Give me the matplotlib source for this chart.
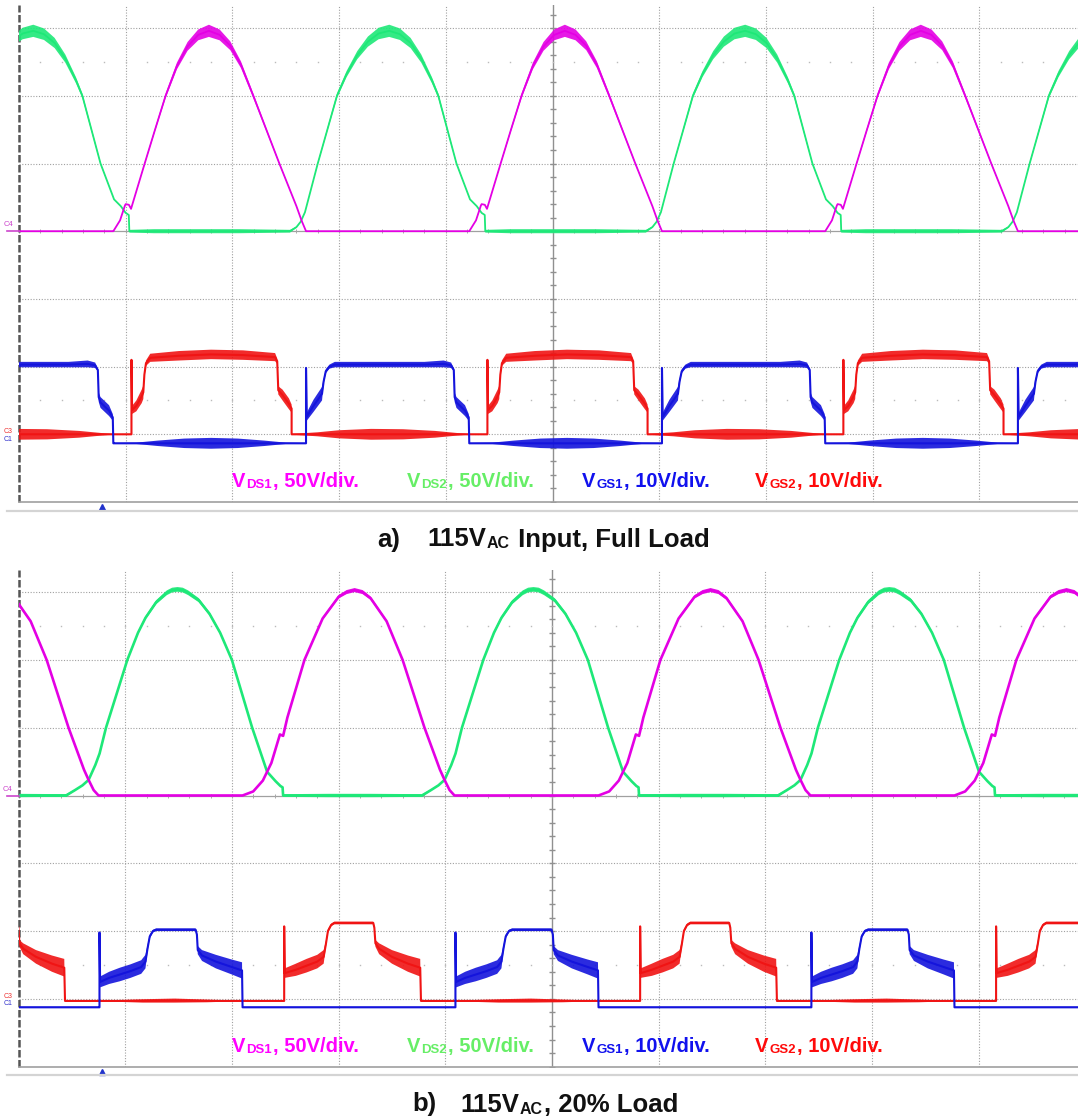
import numpy as np
import matplotlib.pyplot as plt
from matplotlib.text import Annotation
from matplotlib.lines import Line2D

plt.rcParams['font.family'] = ['Liberation Sans', 'DejaVu Sans']

W, H = 1078, 1120
PERIOD = 3.336   # switching period in horizontal divisions (same in both shots)

# ---------------------------------------------------------------------------
#  a) 115VAC input, full load : one switching period of every trace
#     *_t time [div], *_v level [div], *_w half width of ripple / noise band
#     VDS traces are relative to the C4 ground marker (div 4)
# ---------------------------------------------------------------------------
a_vds1_t = [0.884, 0.947, 0.993, 1.00, 1.03, 1.05, 1.178, 1.275, 1.374, 1.48, 1.58, 1.68, 1.78,
            1.88, 1.98, 2.08, 2.196, 2.44, 2.60, 2.65, 2.69, 4.22]
a_vds1_v = [0, 0.16, 0.38, 0.40, 0.39, 0.33, 1.0, 1.5, 2.0, 2.44, 2.73, 2.90, 2.96,
            2.90, 2.74, 2.46, 2.0, 1.0, 0.37, 0.15, 0, 0]
a_vds1_w = [0, 0, 0, 0, 0, 0, 0.015, 0.025, 0.035, 0.05, 0.065, 0.08, 0.09,
            0.08, 0.065, 0.05, 0.035, 0.015, 0, 0, 0, 0]

a_vds2_t = [2.54, 2.60, 2.64, 2.68, 2.80, 2.98, 3.07, 3.17, 3.27, 3.37, 3.47, 3.57, 3.67, 3.77,
            3.87, 3.93, 4.10, 4.227, 4.29, 4.336, 4.365, 4.37, 4.6, 5.0, 5.4, 5.876]
a_vds2_v = [0, 0.06, 0.14, 0.28, 1.0, 2.0, 2.32, 2.60, 2.80, 2.92, 2.96, 2.91, 2.78, 2.55,
            2.23, 2.0, 1.0, 0.47, 0.37, 0.27, 0.24, 0, 0, 0, 0, 0]
a_vds2_w = [0.02, 0.01, 0, 0, 0.015, 0.035, 0.045, 0.06, 0.075, 0.085, 0.09, 0.085, 0.075, 0.06,
            0.045, 0.035, 0.015, 0, 0, 0, 0, 0.02, 0.03, 0.03, 0.03, 0.02]

a_vgs1_t = [0.884, 1.10, 1.30, 1.55, 1.80, 2.05, 2.30, 2.50, 2.69, 2.69, 2.697, 2.76, 2.84, 2.855,
            2.875, 2.91, 2.96, 3.40, 3.80, 3.98, 4.05, 4.075, 4.083, 4.10, 4.18, 4.215, 4.22]
a_vgs1_v = [0.867, 0.867, 0.867, 0.867, 0.867, 0.867, 0.867, 0.867, 0.867, 1.98, 1.26, 1.42, 1.60, 1.78,
            1.93, 2.0, 2.03, 2.03, 2.03, 2.04, 2.02, 1.95, 1.55, 1.47, 1.35, 1.25, 0.867]
a_vgs1_w = [0.005, 0.01, 0.04, 0.07, 0.08, 0.07, 0.04, 0.01, 0.005, 0, 0.06, 0.09, 0.1, 0.04,
            0.03, 0.03, 0.04, 0.04, 0.04, 0.05, 0.04, 0.02, 0.07, 0.08, 0.08, 0.05, 0.005]

a_vgs2_t = [1.054, 1.054, 1.06, 1.10, 1.15, 1.165, 1.175, 1.19, 1.23, 1.50, 1.80, 2.10, 2.40, 2.42,
            2.43, 2.47, 2.53, 2.555, 2.555, 2.80, 3.00, 3.30, 3.60, 3.90, 4.10, 4.22, 4.39]
a_vgs2_v = [1.0, 2.10, 1.36, 1.42, 1.56, 1.62, 1.88, 2.05, 2.13, 2.16, 2.18, 2.17, 2.14, 2.08,
            1.65, 1.58, 1.45, 1.38, 1.0, 1.0, 1.0, 1.0, 1.0, 1.0, 1.0, 1.0, 1.0]
a_vgs2_w = [0, 0, 0.06, 0.08, 0.1, 0.1, 0.04, 0.04, 0.06, 0.07, 0.07, 0.07, 0.06, 0.04,
            0.06, 0.08, 0.08, 0.06, 0.005, 0.03, 0.06, 0.08, 0.075, 0.05, 0.02, 0.005, 0.005]

# ---------------------------------------------------------------------------
#  b) 115VAC, 20% load
# ---------------------------------------------------------------------------
b_vds1_t = [2.10, 2.20, 2.29, 2.37, 2.45, 2.48, 2.52, 2.68, 2.85, 3.00, 3.075, 3.15, 3.225, 3.30,
            3.45, 3.60, 3.805, 3.95, 3.993, 4.04, 4.086, 5.436]
b_vds1_v = [0, 0.06, 0.22, 0.48, 0.90, 0.88, 1.15, 2.0, 2.61, 2.93, 3.0, 3.03, 3.0, 2.91,
            2.57, 2.0, 1.0, 0.38, 0.23, 0.08, 0, 0]
b_vds1_w = [0, 0, 0, 0, 0, 0, 0, 0.01, 0.02, 0.025, 0.03, 0.03, 0.03, 0.025,
            0.02, 0.01, 0, 0, 0, 0, 0, 0]

b_vds2_t = [0.446, 0.53, 0.60, 0.657, 0.72, 0.76, 0.82, 1.02, 1.12, 1.19, 1.29, 1.39, 1.44, 1.49,
            1.54, 1.59, 1.69, 1.79, 1.89, 2.0, 2.19, 2.33, 2.41, 2.455, 2.475, 2.48, 2.9, 3.3, 3.782]
b_vds2_v = [0, 0.08, 0.15, 0.23, 0.45, 0.62, 1.0, 2.0, 2.40, 2.62, 2.85, 2.99, 3.03, 3.04,
            3.03, 2.99, 2.88, 2.68, 2.40, 2.0, 1.0, 0.35, 0.21, 0.14, 0.12, 0, 0, 0, 0]
b_vds2_w = [0.02, 0.01, 0, 0, 0, 0, 0, 0.01, 0.02, 0.025, 0.03, 0.035, 0.035, 0.035,
            0.035, 0.035, 0.03, 0.025, 0.02, 0.01, 0, 0, 0, 0, 0, 0.02, 0.025, 0.025, 0.02]

b_vgs1_t = [0.759, 0.759, 0.765, 0.85, 0.95, 1.05, 1.15, 1.19, 1.21, 1.23, 1.26, 1.29, 1.50, 1.66,
            1.672, 1.68, 1.72, 1.85, 2.00, 2.095, 2.10, 2.5, 3.0, 3.5, 4.095]
b_vgs1_v = [0.876, 1.98, 1.25, 1.31, 1.36, 1.41, 1.47, 1.55, 1.75, 1.92, 2.0, 2.02, 2.02, 2.02,
            1.95, 1.72, 1.64, 1.55, 1.47, 1.42, 0.876, 0.876, 0.876, 0.876, 0.876]
b_vgs1_w = [0, 0, 0.08, 0.09, 0.1, 0.1, 0.1, 0.1, 0.05, 0.03, 0.02, 0.02, 0.02, 0.02,
            0.03, 0.06, 0.08, 0.1, 0.11, 0.12, 0.01, 0.01, 0.01, 0.01, 0.01]

b_vgs2_t = [2.49, 2.49, 2.495, 2.6, 2.7, 2.8, 2.86, 2.88, 2.90, 2.93, 2.96, 3.15, 3.325, 3.335,
            3.345, 3.38, 3.5, 3.65, 3.765, 3.772, 4.2, 4.5, 4.8, 5.1, 5.4, 5.826]
b_vgs2_v = [0.97, 2.07, 1.38, 1.43, 1.49, 1.55, 1.62, 1.80, 2.0, 2.09, 2.12, 2.12, 2.12, 2.05,
            1.82, 1.74, 1.62, 1.52, 1.46, 0.97, 0.97, 0.97, 0.975, 0.97, 0.97, 0.97]
b_vgs2_w = [0, 0, 0.07, 0.09, 0.1, 0.1, 0.1, 0.05, 0.03, 0.02, 0.02, 0.02, 0.02, 0.03,
            0.05, 0.08, 0.1, 0.12, 0.13, 0.005, 0.01, 0.025, 0.03, 0.02, 0.005, 0]

# text
lab_subs = ['DS1', 'DS2', 'GS1', 'GS2']
lab_tails = [', 50V/div.', ', 50V/div.', ', 10V/div.', ', 10V/div.']
lab_colors = ['#ff00ff', '#66ee66', '#1111ee', '#ff0a0a']
captions = [('a)', '115V', 'AC', ' Input, Full Load'), ('b)', '115V', 'AC', ', 20% Load')]

C_MAG, C_GRN, C_BLU, C_RED = '#e400e4', '#1ee878', '#1414dc', '#f01414'

fig = plt.figure(figsize=(W / 100, H / 100), dpi=100)


def tile(t, v, w, off=0.0):
    t = np.asarray(t, float)
    tt = np.concatenate([t + k * PERIOD for k in range(-1, 4)])
    vv = np.tile(np.asarray(v, float), 5) + off
    ww = np.tile(np.asarray(w, float), 5)
    return tt, vv, ww


def trace(ax, t, v, w, color, lw, off=0.0):
    tt, vv, ww = tile(t, v, w, off)
    ax.fill_between(tt, vv - ww, vv + ww, color=color, lw=0, alpha=0.9)
    ax.plot(tt, vv, color=color, lw=lw, solid_joinstyle='round')


def graticule(ax):
    for s in ax.spines.values():
        s.set_visible(False)
    ax.set_xticks([])
    ax.set_yticks([])
    for x in range(1, 11):
        if x != 5:
            ax.axvline(x, color='#a0a0a0', lw=0.8, ls=(0, (1, 1.5)), zorder=0)
    for y in range(1, 8):
        if y != 4:
            ax.axhline(y, color='#a0a0a0', lw=0.8, ls=(0, (1, 1.5)), zorder=0)
    ax.axvline(5, color='#909090', lw=1.0, zorder=0)
    ax.axhline(4, color='#a0a0a0', lw=0.9, zorder=0)
    xs = np.arange(0, 10.01, 0.2)
    ys = np.arange(0, 8.01, 0.2)
    ax.plot(xs, np.full_like(xs, 4), ls='none', marker='|', ms=3, mew=0.7, color='#a8a8a8', zorder=0)
    ax.plot(np.full_like(ys, 5), ys, ls='none', marker='_', ms=4, color='#909090', zorder=0)
    for yr in (1.5, 6.5):
        ax.plot(xs, np.full_like(xs, yr), ls='none', marker='s', ms=1.0, mew=0,
                color='#bbbbbb', zorder=0)
    ax.axvline(0, color='#555555', lw=1.8, ls=(0, (3, 1)), clip_on=False, zorder=1)
    ax.axhline(0, color='#a0a0a0', lw=1.2, clip_on=False, zorder=1)


def runs(x_px, y_px, parts, color):
    prev = fig.text(x_px / W, 1 - y_px / H, parts[0][0], fontsize=parts[0][1], color=color,
                    fontweight='bold', ha='left', va='baseline')
    for s, fs in parts[1:]:
        prev = fig.add_artist(Annotation(s, xy=(1, 0), xycoords=prev, xytext=(0.6, 0),
                                         textcoords='offset points', fontsize=fs, color=color,
                                         fontweight='bold', ha='left', va='bottom'))


panels = [
    dict(left=19, bot=502, top=5, pxdiv=67.7,
         vds1=(a_vds1_t, a_vds1_v, a_vds1_w), vds2=(a_vds2_t, a_vds2_v, a_vds2_w),
         vgs1=(a_vgs1_t, a_vgs1_v, a_vgs1_w), vgs2=(a_vgs2_t, a_vgs2_v, a_vgs2_w),
         lw_ds=1.3, lab_y=487, frame_y=511, cap=(377, 427, 546.5)),
    dict(left=18.5, bot=1066.7, top=570, pxdiv=67.8,
         vds1=(b_vds1_t, b_vds1_v, b_vds1_w), vds2=(b_vds2_t, b_vds2_v, b_vds2_w),
         vgs1=(b_vgs1_t, b_vgs1_v, b_vgs1_w), vgs2=(b_vgs2_t, b_vgs2_v, b_vgs2_w),
         lw_ds=1.9, lab_y=1052, frame_y=1075, cap=(412, 460, 1111.5)),
]

for i, p in enumerate(panels):
    hpx = p['bot'] - p['top']
    ax = fig.add_axes([p['left'] / W, 1 - p['bot'] / H, (W - p['left']) / W, hpx / H])
    ax.set_xlim(0, (W - p['left']) / 106.7)
    ax.set_ylim(0, hpx / p['pxdiv'])
    ax.patch.set_alpha(0)
    graticule(ax)

    trace(ax, *p['vgs2'], C_RED, 1.5)
    trace(ax, *p['vgs1'], C_BLU, 1.5)
    trace(ax, *p['vds2'], C_GRN, p['lw_ds'], off=4)
    trace(ax, *p['vds1'], C_MAG, p['lw_ds'], off=4)

    # channel ground markers and trigger position
    ax.plot([-0.11, 0], [4, 4], color='#cc44cc', lw=1.2, clip_on=False)
    ax.text(-0.1, 4.04, 'C4', color='#cc44cc', fontsize=5.5, ha='center', va='bottom', clip_on=False)
    ax.text(-0.1, 1.04, 'C3', color='#ee3333', fontsize=5, ha='center', va='center', clip_on=False)
    ax.text(-0.1, 0.93, 'C1', color='#3333cc', fontsize=5, ha='center', va='center', clip_on=False)
    ax.plot([0.78], [-0.075], marker='^', color='#2233cc', ms=5, clip_on=False)

    fig.add_artist(Line2D([7 / W, 1], [1 - p['frame_y'] / H] * 2, color='#d4d4d4', lw=1.6))

    for x0, sub, tail, col in zip([232, 407, 582, 755], lab_subs, lab_tails, lab_colors):
        runs(x0, p['lab_y'], [('V', 14.5), (sub, 9.5), (tail, 14.5)], col)

    c = captions[i]
    xa, xb, yc = p['cap']
    runs(xa, yc, [(c[0], 18.5)], '#111111')
    runs(xb, yc, [(c[1], 18.5), (c[2], 11.5), (c[3], 18.5)], '#111111')

fig.savefig('out.png', dpi=100, facecolor='white')
